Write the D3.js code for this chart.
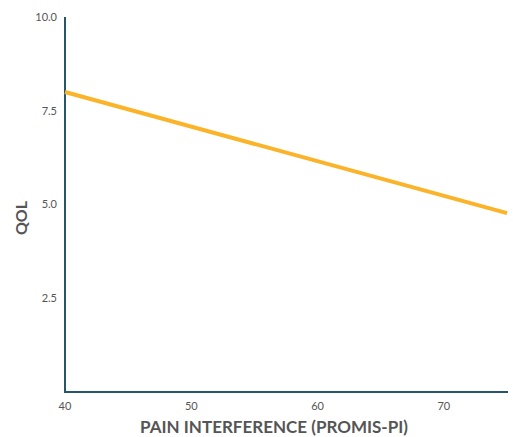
<!DOCTYPE html>
<html><head><meta charset="utf-8">
<script src="https://cdn.jsdelivr.net/npm/d3@7"></script>
<style>body{margin:0;background:#fff}svg{display:block}</style>
</head><body>
<script>
const xTicks = [40, 50, 60, 70];
const yTicks = [2.5, 5.0, 7.5, 10.0];
const lineX = [40, 75];
const lineY = [8.0, 4.77];

const W = 513, H = 437;
const svg = d3.select("body").append("svg").attr("width", W).attr("height", H);
const x = d3.scaleLinear().domain([40, 75]).range([65, 507]);
const y = d3.scaleLinear().domain([0, 10]).range([392, 17]);
const font = "Lato, 'Open Sans', sans-serif";
const axisColor = "#25566a";

// y ticks
svg.append("g").selectAll("text").data(yTicks).join("text")
  .attr("x", 57).attr("y", d => y(d)).attr("dy", "0.35em")
  .attr("text-anchor", "end").attr("font-family", font).attr("font-size", 11)
  .attr("fill", "#555").text(d => d.toFixed(1));
// x ticks
svg.append("g").selectAll("text").data(xTicks).join("text")
  .attr("x", d => x(d)).attr("y", 410)
  .attr("text-anchor", "middle").attr("font-family", font).attr("font-size", 11)
  .attr("fill", "#555").text(d => d);

// axes lines
svg.append("line").attr("x1", x(40)).attr("x2", x(40)).attr("y1", y(10)).attr("y2", y(0) + 1)
  .attr("stroke", axisColor).attr("stroke-width", 2);
svg.append("line").attr("x1", x(40) - 1).attr("x2", x(75) + 1).attr("y1", y(0)).attr("y2", y(0))
  .attr("stroke", axisColor).attr("stroke-width", 2);

// data line
svg.append("path").datum(lineX.map((v, i) => [v, lineY[i]]))
  .attr("d", d3.line().x(d => x(d[0])).y(d => y(d[1])))
  .attr("fill", "none").attr("stroke", "#fbb32a").attr("stroke-width", 4);

// titles
svg.append("text").attr("x", 274).attr("y", 433).attr("text-anchor", "middle")
  .attr("font-family", font).attr("font-weight", "bold").attr("font-size", 17)
  .attr("fill", "#555").text("PAIN INTERFERENCE (PROMIS-PI)");
svg.append("text").attr("transform", "translate(27,218) rotate(-90)").attr("text-anchor", "middle")
  .attr("font-family", font).attr("font-weight", "bold").attr("font-size", 16)
  .attr("fill", "#555").text("QOL");
</script>
</body></html>
